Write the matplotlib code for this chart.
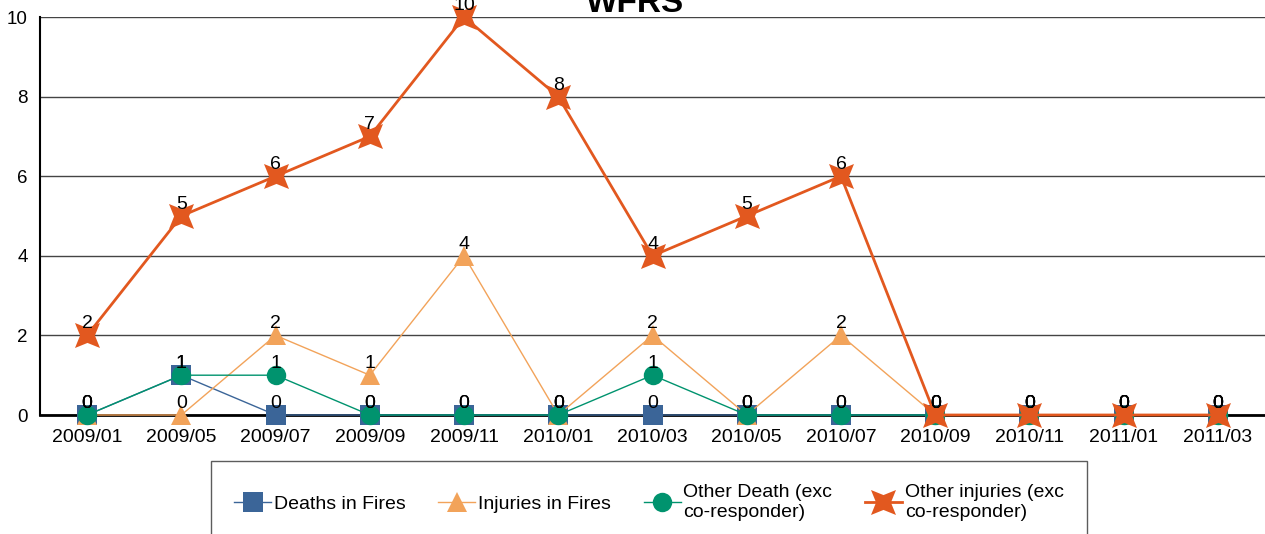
import numpy as np
import matplotlib
matplotlib.use("Agg")
import matplotlib.pyplot as plt

plt.rcParams["font.family"] = ["Liberation Sans", "DejaVu Sans"]

months = ["2009/01", "2009/05", "2009/07", "2009/09", "2009/11", "2010/01", "2010/03",
          "2010/05", "2010/07", "2010/09", "2010/11", "2011/01", "2011/03"]
deaths_fires = [0, 1, 0, 0, 0, 0, 0, 0, 0, 0, 0, 0, 0]
injuries_fires = [0, 0, 2, 1, 4, 0, 2, 0, 2, 0, 0, 0, 0]
other_death = [0, 1, 1, 0, 0, 0, 1, 0, 0, 0, 0, 0, 0]
other_injuries = [2, 5, 6, 7, 10, 8, 4, 5, 6, 0, 0, 0, 0]

BLUE, LORANGE, GREEN, RED = "#3B6598", "#F2A35A", "#00936E", "#E2581F"

# 4-point star, points on the diagonals, slightly fat inner part
ang = np.deg2rad(np.arange(8) * 45 + 45)
rad = np.where(np.arange(8) % 2 == 0, 1.0, 0.42)
STAR = list(zip(rad * np.cos(ang), rad * np.sin(ang)))

series = [
    ("Deaths in Fires", deaths_fires, BLUE, "s", 15, 1.0),
    ("Injuries in Fires", injuries_fires, LORANGE, "^", 15, 1.0),
    ("Other Death (exc\nco-responder)", other_death, GREEN, "o", 14, 1.0),
    ("Other injuries (exc\nco-responder)", other_injuries, RED, STAR, 18, 2.0),
]

fig = plt.figure(figsize=(12.65, 5.34), dpi=100)
ax = fig.add_axes([40 / 1265, 1 - 415 / 534, 1 - 40 / 1265, (415 - 17) / 534])

x = list(range(len(months)))
for z, (name, vals, col, mk, ms, lw) in enumerate(series):
    ax.plot(x, vals, color=col, lw=lw, marker=mk, markersize=ms,
            markeredgewidth=0, label=name, zorder=3 + z, clip_on=False)
    for xi, v in zip(x, vals):
        ax.annotate(str(v), (xi, v), xytext=(0, 5), textcoords="offset points",
                    ha="center", va="baseline", fontsize=14, zorder=10,
                    annotation_clip=False)

ax.set_xlim(-0.5, len(months) - 0.5)
ax.set_ylim(0, 10)
ax.set_yticks([0, 2, 4, 6, 8, 10])
ax.set_xticks(x)
ax.set_xticklabels(months)
ax.tick_params(axis="x", length=0, pad=10, labelsize=14)
ax.tick_params(axis="y", length=0, pad=9, labelsize=13.5)
ax.grid(True, axis="y", color="#444444", lw=1.0)
ax.set_axisbelow(True)
for s in ["top", "right"]:
    ax.spines[s].set_visible(False)
ax.spines["left"].set_linewidth(1.5)
ax.spines["bottom"].set_linewidth(2.0)
ax.spines["bottom"].set_zorder(2.5)

fig.text(635 / 1265, 1 - 12 / 534, "WFRS", ha="center", va="baseline",
         fontsize=24, fontweight="bold")

leg = fig.legend(loc="upper left", bbox_to_anchor=(211 / 1265, 1 - 461 / 534),
                 ncol=4, fontsize=14, frameon=True, fancybox=False,
                 edgecolor="#333333", handlelength=1.9, columnspacing=1.67,
                 borderpad=1.2, handletextpad=0.15, borderaxespad=0)
leg.get_frame().set_linewidth(1.0)

fig.savefig("out.png", dpi=100)
